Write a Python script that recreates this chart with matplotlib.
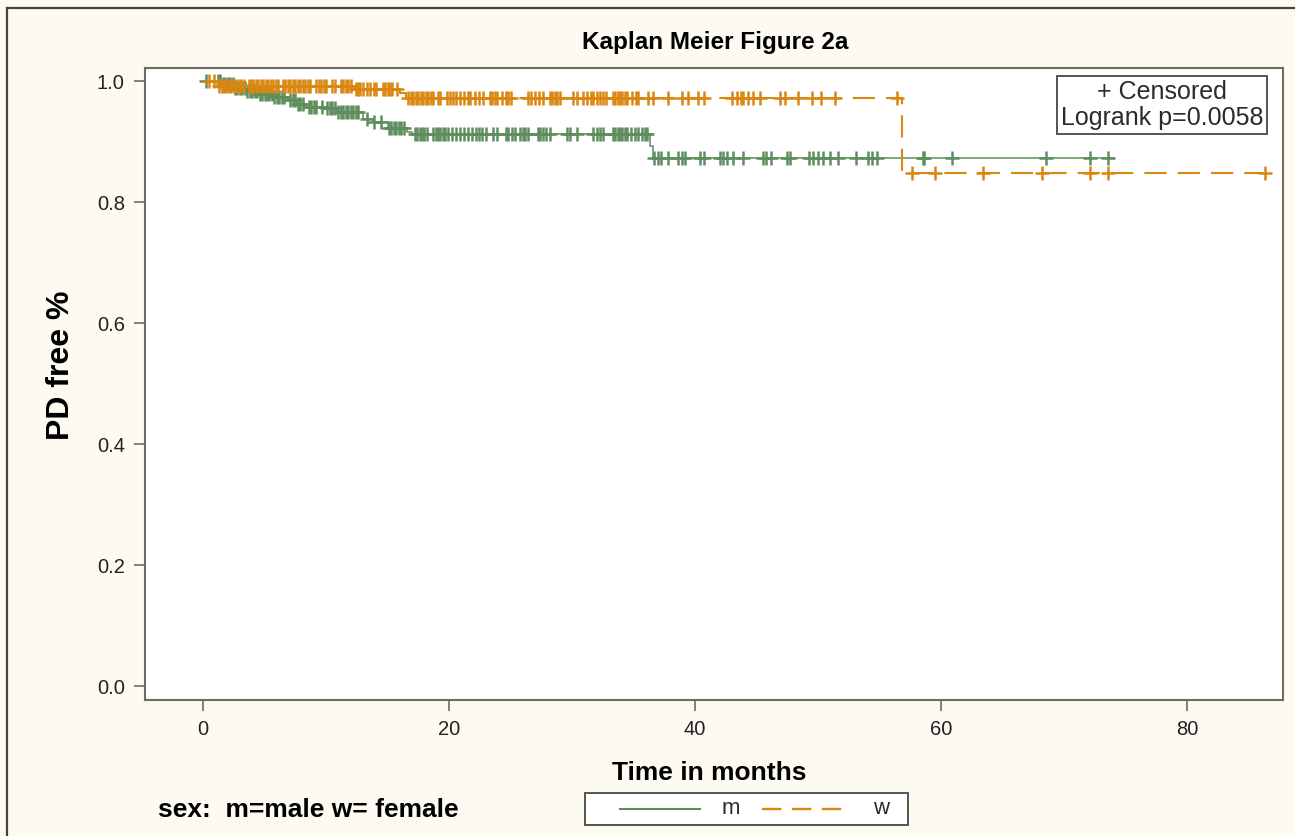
import numpy as np
import matplotlib
matplotlib.use("Agg")
import matplotlib.pyplot as plt
from matplotlib.lines import Line2D
from matplotlib.patches import Rectangle

plt.rcParams['font.family'] = ['Liberation Sans', 'DejaVu Sans']
plt.rcParams['lines.scale_dashes'] = False

# ---- data ----
title = "Kaplan Meier Figure 2a"
xlabel = "Time in months"
ylabel = "PD free %"
xticks = [0, 20, 40, 60, 80]
yticks = [0.0, 0.2, 0.4, 0.6, 0.8, 1.0]

# male (m) step function
m_times = [0, 1.5, 2.5, 3.5, 4.5, 5.8, 7.0, 7.6, 8.4, 10.0, 10.9, 13.0, 13.8, 15.0, 16.6, 17.0, 36.3, 36.6]
m_surv = [1.0, 0.995, 0.989, 0.984, 0.979, 0.974, 0.968, 0.962, 0.957, 0.955, 0.949, 0.938, 0.932, 0.922, 0.916, 0.913, 0.893, 0.873]
m_end = 74.1
m_cens = [0.2, 1.2, 1.4, 1.6, 1.8, 2.0, 2.2, 2.4, 2.6, 2.8, 3.0, 3.2, 3.4, 3.6, 3.8, 4.0, 4.2, 4.4,
          4.6, 4.8, 5.0, 5.2, 5.4, 5.6, 5.8, 6.0, 6.2, 6.4, 6.6, 7.1, 7.3, 7.5, 7.7, 7.9, 8.1, 8.6,
          8.8, 9.0, 9.2, 9.7, 10.1, 10.3, 10.5, 10.7, 11.0, 11.2, 11.4, 11.6, 11.8, 12.0, 12.2, 12.4,
          12.6, 13.3, 13.9, 14.5, 15.1, 15.3, 15.5, 15.7, 15.9, 16.1, 16.3, 17.2, 17.4, 17.6, 17.8,
          18.0, 18.2, 18.7, 18.9, 19.1, 19.3, 19.5, 19.7, 19.9, 20.2, 20.6, 20.9, 21.2, 21.5, 21.9,
          22.2, 22.4, 22.7, 23.0, 23.6, 23.9, 24.6, 24.8, 25.1, 25.4, 25.8, 26.0, 26.2, 26.4, 27.2,
          27.4, 27.6, 27.9, 28.2, 29.6, 29.8, 30.4, 31.7, 32.0, 32.3, 32.5, 33.3, 33.5, 33.7, 33.9,
          34.1, 34.3, 34.5, 34.8, 35.1, 35.4, 35.7, 35.9, 36.1, 36.7, 37.0, 37.2, 37.8, 38.6, 38.9,
          39.2, 40.4, 40.7, 42.0, 42.3, 42.6, 43.1, 43.9, 45.5, 45.8, 46.2, 47.5, 47.7, 49.3, 49.6,
          50.0, 50.4, 51.0, 51.6, 53.1, 54.1, 54.4, 54.8, 58.5, 58.6, 60.9, 68.5, 72.1, 73.6]

# female (w) step function
w_times = [0, 1.2, 12.2, 16.0, 16.5, 56.8]
w_surv = [1.0, 0.992, 0.987, 0.980, 0.972, 0.848]
w_end = 86.3
w_cens = [0.5, 0.9, 1.3, 1.5, 1.7, 1.9, 2.1, 2.3, 2.5, 2.7, 2.9, 3.1, 3.3, 3.7, 3.9, 4.1, 4.3,
          4.5, 4.7, 4.9, 5.1, 5.3, 5.5, 5.7, 5.9, 6.1, 6.5, 6.7, 6.9, 7.1, 7.3, 7.5, 7.7, 7.9, 8.1,
          8.3, 8.5, 8.7, 9.2, 9.4, 9.6, 9.8, 10.0, 10.5, 10.7, 11.2, 11.4, 11.6, 11.8, 12.0, 12.4,
          12.6, 12.8, 13.0, 13.3, 13.6, 13.9, 14.1, 14.6, 14.8, 15.0, 15.2, 15.4, 15.8, 16.7, 16.9,
          17.1, 17.3, 17.5, 17.7, 17.9, 18.1, 18.3, 18.5, 18.7, 19.1, 19.3, 19.8, 20.1, 20.3, 20.6,
          20.9, 21.2, 21.5, 21.7, 22.1, 22.4, 22.8, 23.3, 23.5, 23.7, 23.9, 24.3, 24.6, 24.8, 25.0,
          26.4, 26.7, 27.0, 27.3, 27.6, 28.2, 28.4, 28.6, 28.8, 29.0, 30.1, 30.4, 30.9, 31.2, 31.5,
          31.7, 32.0, 32.3, 32.5, 32.8, 33.3, 33.5, 33.7, 33.9, 34.1, 34.3, 34.5, 34.9, 35.2, 35.4,
          36.2, 36.6, 37.8, 38.9, 39.4, 40.2, 40.7, 43.0, 43.4, 43.7, 43.9, 44.3, 44.7, 45.3, 46.9,
          47.3, 48.4, 49.5, 50.2, 51.4, 56.4, 57.6, 59.5, 63.4, 68.2, 72.1, 73.6, 86.3]

group_labels = ["m", "w"]
annot_lines = ["+ Censored", "Logrank p=0.0058"]
footnote = "sex:  m=male w= female"

# ---- styles ----
GREEN = '#5E8E5E'
ORANGE = '#DA8712'
FRAME = '#6E6C62'
BG = '#FDFAF2'
W, H = 1295, 836


def fx(x):
    return x / W


def fy(y):
    return 1 - y / H


def level_at(times, surv, t):
    idx = np.searchsorted(np.asarray(times), np.asarray(t), side='right') - 1
    return np.asarray(surv)[idx]


fig = plt.figure(figsize=(12.95, 8.36), dpi=100, facecolor=BG)
ax = fig.add_axes([fx(145), fy(700), (1283 - 145) / W, (700 - 68) / H])
ax.set_facecolor('white')

# male
mx = list(m_times) + [m_end]
my = list(m_surv) + [m_surv[-1]]
ax.step(mx, my, where='post', color=GREEN, lw=1.1, zorder=3)
ax.plot(m_cens, level_at(m_times, m_surv, m_cens), linestyle='none', marker='+',
        ms=10.5, mew=1.8, color=GREEN, zorder=3)

# female
wx = list(w_times) + [w_end]
wy = list(w_surv) + [w_surv[-1]]
ax.step(wx, wy, where='post', color=ORANGE, lw=1.5, dashes=(16, 8), zorder=4)
ax.plot(w_cens, level_at(w_times, w_surv, w_cens), linestyle='none', marker='+',
        ms=10.5, mew=1.8, color=ORANGE, zorder=4)

ax.set_xlim(-4.72, 87.8)
ax.set_ylim(-0.0223, 1.0215)
ax.set_xticks(xticks)
ax.set_yticks(yticks)
ax.set_xticklabels([str(v) for v in xticks])
ax.set_yticklabels([f"{v:.1f}" for v in yticks])
ax.tick_params(direction='out', length=8, width=1.2, color=FRAME, labelsize=14.5,
               labelcolor='#222222', pad=6.5)
for s in ax.spines.values():
    s.set_color(FRAME)
    s.set_linewidth(1.5)

ax.set_ylabel(ylabel, fontsize=23, fontweight='bold')
ax.yaxis.set_label_coords(-0.061, 0.53)

fig.text(fx(715), fy(43), title, ha='center', va='center', fontsize=17.5, fontweight='bold')
fig.text(fx(709), fy(773), xlabel, ha='center', va='center', fontsize=19, fontweight='bold')
fig.text(fx(158), fy(810), footnote, ha='left', va='center', fontsize=19, fontweight='bold')

# inset annotation box
ax.text(0.8937, 0.9415, "\n".join(annot_lines), transform=ax.transAxes, ha='center',
        va='center', fontsize=18, color='#2b2b2b', linespacing=1.1, zorder=6,
        bbox=dict(boxstyle='square,pad=0.15', fc='white', ec='#555550', lw=1.4))

# bottom legend (drawn as a box with sample lines)
fig.add_artist(Rectangle((fx(585), fy(825)), fx(908) - fx(585), fy(793) - fy(825),
                         transform=fig.transFigure, fc='white', ec='#555550', lw=1.4))
fig.add_artist(Line2D([fx(620), fx(700)], [fy(809), fy(809)], transform=fig.transFigure,
                      color=GREEN, lw=1.5))
fig.add_artist(Line2D([fx(762), fx(842)], [fy(809), fy(809)], transform=fig.transFigure,
                      color=ORANGE, lw=1.7, dashes=(14, 7.5)))
fig.text(fx(722), fy(808), group_labels[0], ha='left', va='center', fontsize=16, color='#2b2b2b')
fig.text(fx(873), fy(808), group_labels[1], ha='left', va='center', fontsize=16, color='#2b2b2b')

# figure border (left and top)
fig.add_artist(Line2D([fx(7), fx(7)], [0, fy(8)], transform=fig.transFigure,
                      color='#45453c', lw=1.6))
fig.add_artist(Line2D([fx(7), 1], [fy(8), fy(8)], transform=fig.transFigure,
                      color='#45453c', lw=1.6))

fig.savefig('out.png', dpi=100, facecolor=BG)
